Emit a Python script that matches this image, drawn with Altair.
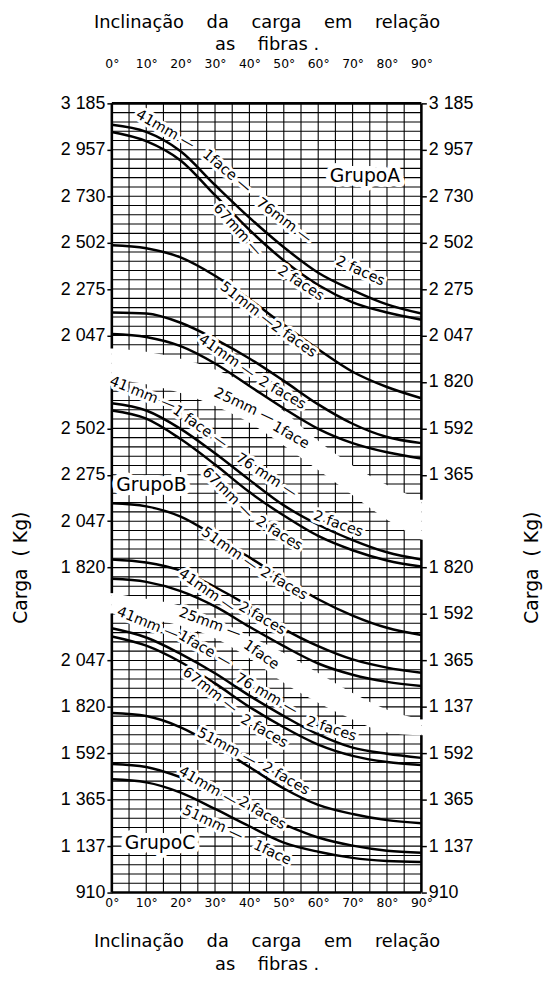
import altair as alt
import pandas as pd
import numpy as np

FONT = "DejaVu Sans"
NUM_FONT = "Liberation Sans"

# ---------------- data ----------------
DEGREES = [0, 10, 20, 30, 40, 50, 60, 70, 80, 90]
KG_PER_ROW = 227.5                      # one labelled row = 500 lb = 227.5 kg
GROUP_TOP = {"A": 14, "B": 18, "C": 21}  # each group's scale value at the sheet top, in rows

# Grupo A
A_41_1F_76_2F = [3080, 3045, 2950, 2785, 2625, 2480, 2355, 2270, 2200, 2155]
A_67_2F = [3045, 3000, 2905, 2735, 2565, 2415, 2295, 2210, 2160, 2125]
A_51_2F = [2490, 2475, 2430, 2340, 2225, 2100, 1980, 1870, 1795, 1740]
A_41_2F = [2160, 2155, 2110, 2030, 1935, 1825, 1710, 1615, 1550, 1520]
A_25_1F = [2055, 2040, 1995, 1910, 1800, 1690, 1590, 1520, 1475, 1445]
# Grupo B
B_41_1F_76_2F = [2625, 2590, 2500, 2380, 2250, 2125, 2030, 1955, 1895, 1860]
B_67_2F = [2590, 2550, 2450, 2325, 2190, 2075, 1975, 1905, 1855, 1825]
B_51_2F = [2135, 2120, 2070, 1975, 1870, 1765, 1665, 1585, 1525, 1490]
B_41_2F = [1860, 1845, 1805, 1725, 1630, 1520, 1435, 1370, 1330, 1305]
B_25_1F = [1765, 1750, 1705, 1630, 1530, 1435, 1350, 1295, 1260, 1240]
# Grupo C
C_41_1F_76_2F = [2205, 2160, 2080, 1985, 1875, 1775, 1685, 1620, 1590, 1570]
C_67_2F = [2165, 2120, 2040, 1935, 1820, 1720, 1635, 1580, 1550, 1535]
C_51_2F = [1790, 1775, 1720, 1630, 1525, 1420, 1340, 1295, 1265, 1250]
C_41_2F = [1540, 1525, 1475, 1405, 1320, 1245, 1180, 1140, 1115, 1105]
C_51_1F = [1465, 1450, 1400, 1320, 1235, 1155, 1110, 1080, 1065, 1060]

CURVES = [
    ("A", "41-1f/76-2f", A_41_1F_76_2F), ("A", "67-2f", A_67_2F), ("A", "51-2f", A_51_2F),
    ("A", "41-2f", A_41_2F), ("A", "25-1f", A_25_1F),
    ("B", "41-1f/76-2f", B_41_1F_76_2F), ("B", "67-2f", B_67_2F), ("B", "51-2f", B_51_2F),
    ("B", "41-2f", B_41_2F), ("B", "25-1f", B_25_1F),
    ("C", "41-1f/76-2f", C_41_1F_76_2F), ("C", "67-2f", C_67_2F), ("C", "51-2f", C_51_2F),
    ("C", "41-2f", C_41_2F), ("C", "51-1f", C_51_1F),
]

# curve annotations: group, text, angle of inclination (deg), load (kg), text rotation
LABEL_GRP = ["A"] * 12 + ["B"] * 12 + ["C"] * 12
LABEL_TXT = ["41mm —", "1face —", "76mm —", "2 faces", "67mm —", "2 faces",
             "51mm —", "2 faces", "41mm —", "2 faces", "25mm —", "1face",
             "41 mm —", "1 face —", "76 mm —", "2 faces", "67mm —", "2 faces",
             "51mm —", "2 faces", "41mm —", "2 faces", "25mm —", "1face",
             "41mm —", "1face —", "76 mm —", "2 faces", "67mm —", "2 faces",
             "51mm —", "2 faces", "41mm —", "2 faces", "51mm —", "1face"]
LABEL_DEG = [15.5, 33.4, 50.0, 72.2, 36.5, 54.9, 39.4, 52.9, 33.4, 49.5, 38.5, 52.0,
             8.9, 25.6, 44.9, 65.8, 33.6, 48.6, 34.2, 50.0, 27.6, 43.7, 28.5, 43.4,
             10.4, 27.0, 44.9, 63.8, 28.5, 44.3, 33.4, 50.6, 27.9, 43.7, 29.3, 46.6]
LABEL_KG = [3055, 2851, 2609, 2362, 2564, 2302, 2196, 2027, 1944, 1765, 1702, 1557,
            2672, 2508, 2270, 2032, 2185, 1986, 1909, 1740, 1706, 1570, 1546, 1391,
            2228, 2102, 1880, 1710, 1900, 1699, 1622, 1467, 1429, 1298, 1249, 1104]
LABEL_ANGLE = [30, 40, 37, 25, 48, 33, 38, 35, 35, 30, 25, 30,
               22, 35, 33, 20, 45, 32, 35, 30, 35, 30, 20, 35,
               22, 30, 30, 18, 38, 30, 28, 30, 30, 30, 25, 25]

GROUP_NAMES = ["GrupoA", "GrupoB", "GrupoC"]
GROUP_NAME_GRP = ["A", "B", "C"]
GROUP_NAME_DEG = [73.6, 11.5, 14.0]
GROUP_NAME_KG = [2831, 2225, 1153]

# axis tick labels (row index from the top of the sheet -> label)
LEFT_ROWS = [0, 1, 2, 3, 4, 5, 7, 8, 9, 10, 12, 13, 14, 15, 16, 17]
LEFT_LABELS = ["3 185", "2 957", "2 730", "2 502", "2 275", "2 047",
               "2 502", "2 275", "2 047", "1 820",
               "2 047", "1 820", "1 592", "1 365", "1 137", "910"]
RIGHT_ROWS = [0, 1, 2, 3, 4, 5, 6, 7, 8, 10, 11, 12, 13, 14, 15, 16, 17]
RIGHT_LABELS = ["3 185", "2 957", "2 730", "2 502", "2 275", "2 047", "1 820", "1 592", "1 365",
                "1 820", "1 592", "1 365", "1 137",
                "1 592", "1 365", "1 137", "910"]

# white gaps between the group grids (rows from top), at the angles in DEGREES
GAP_AB_TOP = [5.28, 5.35, 5.50, 5.73, 6.09, 6.63, 7.27, 7.80, 8.22, 8.54]
GAP_AB_BOT = [5.94, 6.05, 6.24, 6.52, 6.88, 7.37, 7.90, 8.44, 8.97, 9.40]
GAP_BC_TOP = [10.55, 10.67, 10.82, 11.10, 11.48, 11.84, 12.27, 12.70, 13.06, 13.27]
GAP_BC_BOT = [10.99, 11.10, 11.25, 11.52, 11.95, 12.48, 12.91, 13.27, 13.55, 13.61]

N_ROWS = 17
SP = "\u00a0\u00a0\u00a0 "
TITLE_LINES = ["Inclinação" + SP + "da" + SP + "carga" + SP + "em" + SP + "relação",
               "as" + SP + "fibras ."]
Y_TITLE = "Carga\u00a0\u00a0(\u00a0Kg)"

# ---------------- tables ----------------
rows = []
for g, name, vals in CURVES:
    for d, v in zip(DEGREES, vals):
        rows.append({"grp": g, "curve": g + name, "deg": d, "kg": v, "shift": GROUP_TOP[g]})
curves_df = pd.DataFrame(rows)

labels_df = pd.DataFrame({"grp": LABEL_GRP, "txt": LABEL_TXT, "deg": LABEL_DEG,
                          "kg": LABEL_KG, "ang": LABEL_ANGLE})
labels_df["shift"] = labels_df["grp"].map(GROUP_TOP)

names_df = pd.DataFrame({"txt": GROUP_NAMES, "grp": GROUP_NAME_GRP,
                         "deg": GROUP_NAME_DEG, "kg": GROUP_NAME_KG})
names_df["shift"] = names_df["grp"].map(GROUP_TOP)

hgrid_df = pd.DataFrame({"row": np.round(np.arange(0.2, N_ROWS - 0.1, 0.2), 2)})
vgrid_df = pd.DataFrame({"d": list(range(5, 90, 5))})

gaps_df = pd.DataFrame({
    "deg": DEGREES * 2,
    "top": GAP_AB_TOP + GAP_BC_TOP,
    "bot": GAP_AB_BOT + GAP_BC_BOT,
    "gap": ["AB"] * len(DEGREES) + ["BC"] * len(DEGREES),
})

frame_df = pd.DataFrame({
    "x": [0, 0, 0, 90, 90, 90],
    "r1": [0, GAP_AB_BOT[0], GAP_BC_BOT[0], 0, GAP_AB_BOT[-1], GAP_BC_BOT[-1]],
    "r2": [GAP_AB_TOP[0], GAP_BC_TOP[0], N_ROWS, GAP_AB_TOP[-1], GAP_BC_TOP[-1], N_ROWS],
})
hframe_df = pd.DataFrame({"row": [0, N_ROWS]})

# ---------------- scales & axes ----------------
XS = alt.Scale(domain=[0, 90], nice=False, zero=False)
YS = alt.Scale(domain=[0, N_ROWS], reverse=True, nice=False, zero=False)


def arr_expr(rows_, labels_):
    arr = [""] * (N_ROWS + 1)
    for r, l in zip(rows_, labels_):
        arr[r] = l
    return "[" + ",".join("'" + s + "'" for s in arr) + "][datum.value]"


common_y = dict(domain=False, grid=False, ticks=True, tickColor="black", tickSize=5,
                tickWidth=1.5, labelFont=NUM_FONT, labelFontSize=18, labelColor="black",
                labelPadding=2, title=Y_TITLE, titleFont=FONT, titleFontSize=19,
                titleFontWeight="normal", titleColor="black", titleAngle=270,
                titleY=469, titleBaseline="middle", titleAlign="center")
left_axis = alt.Axis(orient="left", values=LEFT_ROWS, labelExpr=arr_expr(LEFT_ROWS, LEFT_LABELS),
                     titleX=-92, **common_y)
right_axis = alt.Axis(orient="right", values=RIGHT_ROWS,
                      labelExpr=arr_expr(RIGHT_ROWS, RIGHT_LABELS), titleX=111, **common_y)

common_x = dict(values=DEGREES, labelExpr="datum.value + '°'", domain=False, grid=False,
                ticks=False, labelFont=FONT, labelFontSize=12.5, labelColor="black",
                labelOverlap=False, labelFlush=False,
                title=TITLE_LINES, titleFont=FONT, titleFontSize=18, titleFontWeight="normal",
                titleColor="black", titleLineHeight=23)
top_axis = alt.Axis(orient="top", labelPadding=33, titlePadding=4, **common_x)
bottom_axis = alt.Axis(orient="bottom", labelPadding=4, titlePadding=24, **common_x)

ROW_EXPR = "datum.shift - datum.kg / %s" % KG_PER_ROW

# ---------------- layers ----------------
hgrid = alt.Chart(hgrid_df).mark_rule(color="black", strokeWidth=1.1).encode(
    y=alt.Y("row:Q", scale=YS, axis=left_axis),
    x=alt.X(datum=0, scale=XS, axis=None),
    x2=alt.X2(datum=90),
)

vgrid = alt.Chart(vgrid_df).mark_rule(color="black", strokeWidth=1.1).encode(
    x=alt.X("d:Q", scale=XS, axis=top_axis),
    y=alt.Y(datum=0, scale=YS, axis=right_axis),
    y2=alt.Y2(datum=N_ROWS),
)

gaps = alt.Chart(gaps_df).mark_area(color="white", interpolate="monotone", opacity=1).encode(
    x=alt.X("deg:Q", scale=XS, axis=None),
    y=alt.Y("top:Q", scale=YS, axis=None),
    y2="bot:Q",
    detail="gap:N",
)

frame_v = alt.Chart(frame_df).mark_rule(color="black", strokeWidth=2.6).encode(
    x=alt.X("x:Q", scale=XS, axis=None),
    y=alt.Y("r1:Q", scale=YS, axis=None),
    y2="r2:Q",
)
frame_h = alt.Chart(hframe_df).mark_rule(color="black", strokeWidth=2.6).encode(
    y=alt.Y("row:Q", scale=YS, axis=None),
    x=alt.X(datum=0, scale=XS, axis=None),
    x2=alt.X2(datum=90),
)

label_base = alt.Chart(labels_df).transform_calculate(row=ROW_EXPR).encode(
    x=alt.X("deg:Q", scale=XS, axis=None),
    y=alt.Y("row:Q", scale=YS, axis=None),
    text="txt:N",
    angle=alt.Angle("ang:Q", scale=None),
)
label_halo = label_base.mark_text(font=FONT, fontSize=14.5, color="white", stroke="white",
                                  strokeWidth=6, strokeJoin="round")
label_text = label_base.mark_text(font=FONT, fontSize=14.5, color="black")

name_base = alt.Chart(names_df).transform_calculate(row=ROW_EXPR).encode(
    x=alt.X("deg:Q", scale=XS, axis=None),
    y=alt.Y("row:Q", scale=YS, axis=None),
    text="txt:N",
)
name_halo = name_base.mark_text(font=FONT, fontSize=19, color="white", stroke="white",
                                strokeWidth=10, strokeJoin="round")
name_text = name_base.mark_text(font=FONT, fontSize=19, color="black")

lines = alt.Chart(curves_df).transform_calculate(row=ROW_EXPR).mark_line(
    color="black", strokeWidth=2.5, interpolate="monotone"
).encode(
    x=alt.X("deg:Q", scale=XS, axis=bottom_axis),
    y=alt.Y("row:Q", scale=YS, axis=None),
    detail="curve:N",
)

chart = alt.layer(
    hgrid, vgrid, gaps, frame_v, frame_h, name_halo, lines, label_halo, label_text, name_text
).properties(
    width=313, height=798, padding={"left": 4, "right": 4, "top": 0, "bottom": 4},
    background="white"
).configure_view(stroke=None)

chart.save("out.html", embed_options={"renderer": "svg", "actions": False})
